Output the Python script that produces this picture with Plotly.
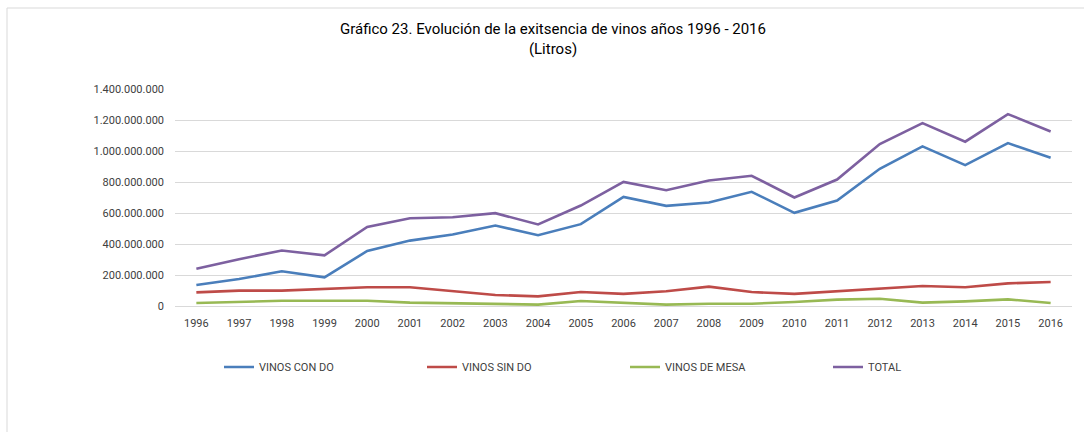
import plotly.graph_objects as go

years = [str(y) for y in range(1996, 2017)]
vinos_con_do = [136e6, 174e6, 224e6, 185e6, 355e6, 422e6, 461e6, 519e6, 457e6, 528e6, 704e6,
                646e6, 668e6, 737e6, 601e6, 681e6, 885e6, 1030e6, 909e6, 1051e6, 956e6]
vinos_sin_do = [88e6, 99e6, 99e6, 108e6, 121e6, 121e6, 95e6, 71e6, 62e6, 90e6, 78e6,
                95e6, 125e6, 90e6, 78e6, 95e6, 114e6, 129e6, 121e6, 146e6, 155e6]
vinos_de_mesa = [19e6, 28e6, 34e6, 34e6, 34e6, 22e6, 17e6, 13e6, 9e6, 32e6, 22e6,
                 9e6, 15e6, 15e6, 26e6, 41e6, 47e6, 22e6, 30e6, 43e6, 19e6]
total = [241e6, 302e6, 358e6, 327e6, 510e6, 566e6, 573e6, 599e6, 526e6, 648e6, 801e6,
         747e6, 810e6, 840e6, 700e6, 816e6, 1045e6, 1180e6, 1060e6, 1238e6, 1126e6]

series = [
    ("VINOS CON DO", vinos_con_do, "#4A7EBB"),
    ("VINOS SIN DO", vinos_sin_do, "#BE4B48"),
    ("VINOS DE MESA", vinos_de_mesa, "#98B954"),
    ("TOTAL", total, "#7D60A0"),
]

FONT = "Roboto, sans-serif"

fig = go.Figure()
for name, vals, col in series:
    fig.add_trace(go.Scatter(x=years, y=vals, name=name, mode="lines",
                             line=dict(color=col, width=2.6)))

L, R, T, B = 175, 12, 89, 126
pw, ph = 1084 - L - R, 432 - T - B

def px(x):
    return (x - L) / pw

def py(y):
    return (432 - B - y) / ph

fig.update_layout(
    width=1084, height=432,
    margin=dict(l=L, r=R, t=T, b=B),
    paper_bgcolor="white", plot_bgcolor="white",
    separators=",.",
    font=dict(family=FONT, size=11, color="#404040"),
    showlegend=True,
    legend=dict(orientation="h", x=px(219), xanchor="left", y=py(367), yanchor="middle",
                entrywidth=158, entrywidthmode="pixels", font=dict(size=11, color="#404040"),
                tracegroupgap=0),
    xaxis=dict(type="category", range=[-0.5, 20.5], showgrid=False, zeroline=False,
               showline=False, ticks="", ticklabelstandoff=9,
               tickfont=dict(size=11, color="#404040")),
    yaxis=dict(range=[0, 1.4e9], dtick=2e8, tickformat=",d", showgrid=True,
               gridcolor="#D9D9D9", gridwidth=1, zeroline=True, zerolinecolor="#D9D9D9",
               zerolinewidth=1, showline=False, ticks="", ticklabelstandoff=10,
               tickfont=dict(size=11, color="#404040")),
    annotations=[
        dict(text="Gráfico 23. Evolución de la exitsencia de vinos años 1996 - 2016<br>(Litros)",
             xref="paper", yref="paper", x=px(553), y=py(39), xanchor="center", yanchor="middle",
             showarrow=False, font=dict(family=FONT, size=15, color="#000000")),
    ],
    shapes=[
        dict(type="line", xref="paper", yref="paper", x0=px(7), x1=px(1084), y0=py(8), y1=py(8),
             line=dict(color="#D9D9D9", width=1)),
        dict(type="line", xref="paper", yref="paper", x0=px(7), x1=px(7), y0=py(8), y1=py(432),
             line=dict(color="#D9D9D9", width=1)),
    ],
)

fig.write_html("out.html", config={"displayModeBar": False},
               post_script="document.body.style.margin='0';document.body.style.overflow='hidden';")
